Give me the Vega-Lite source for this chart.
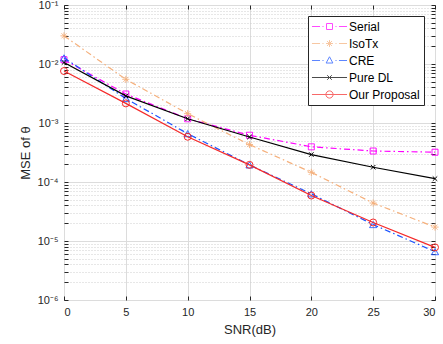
{
  "$schema": "https://vega.github.io/schema/vega-lite/v6.json",
  "width": 371,
  "height": 295,
  "autosize": {"type": "none"},
  "padding": {"left": 64, "top": 5, "right": 8, "bottom": 44},
  "background": "white",
  "config": {
    "view": {"stroke": "#262626", "strokeWidth": 1},
    "font": "Liberation Sans",
    "axis": {"labelFont": "Liberation Sans", "titleFont": "Liberation Sans", "labelColor": "#262626", "titleColor": "#262626", "titleFontWeight": "normal", "domain": false, "tickColor": "#262626"}
  },
  "data": {"values": [
    {"snr": 0, "series": "Serial", "mse": 0.0118},
    {"snr": 5, "series": "Serial", "mse": 0.0031},
    {"snr": 10, "series": "Serial", "mse": 0.00118},
    {"snr": 15, "series": "Serial", "mse": 0.00062},
    {"snr": 20, "series": "Serial", "mse": 0.000395},
    {"snr": 25, "series": "Serial", "mse": 0.000335},
    {"snr": 30, "series": "Serial", "mse": 0.00032},
    {"snr": 0, "series": "IsoTx", "mse": 0.030},
    {"snr": 5, "series": "IsoTx", "mse": 0.0055},
    {"snr": 10, "series": "IsoTx", "mse": 0.00144},
    {"snr": 15, "series": "IsoTx", "mse": 0.00043},
    {"snr": 20, "series": "IsoTx", "mse": 0.000146},
    {"snr": 25, "series": "IsoTx", "mse": 0.000044},
    {"snr": 30, "series": "IsoTx", "mse": 0.0000172},
    {"snr": 0, "series": "CRE", "mse": 0.0127},
    {"snr": 5, "series": "CRE", "mse": 0.0026},
    {"snr": 10, "series": "CRE", "mse": 0.00066},
    {"snr": 15, "series": "CRE", "mse": 0.000195},
    {"snr": 20, "series": "CRE", "mse": 0.000063},
    {"snr": 25, "series": "CRE", "mse": 0.000019},
    {"snr": 30, "series": "CRE", "mse": 0.0000066},
    {"snr": 0, "series": "Pure DL", "mse": 0.0106},
    {"snr": 5, "series": "Pure DL", "mse": 0.00288},
    {"snr": 10, "series": "Pure DL", "mse": 0.00118},
    {"snr": 15, "series": "Pure DL", "mse": 0.00058},
    {"snr": 20, "series": "Pure DL", "mse": 0.000292},
    {"snr": 25, "series": "Pure DL", "mse": 0.000178},
    {"snr": 30, "series": "Pure DL", "mse": 0.000114},
    {"snr": 0, "series": "Our Proposal", "mse": 0.0076},
    {"snr": 5, "series": "Our Proposal", "mse": 0.00215},
    {"snr": 10, "series": "Our Proposal", "mse": 0.000585},
    {"snr": 15, "series": "Our Proposal", "mse": 0.000195},
    {"snr": 20, "series": "Our Proposal", "mse": 0.000059},
    {"snr": 25, "series": "Our Proposal", "mse": 0.0000206},
    {"snr": 30, "series": "Our Proposal", "mse": 0.0000078}
  ]},
  "resolve": {"axis": {"x": "independent", "y": "independent"}},
  "layer": [
    {
      "transform": [{"filter": "datum.series === 'Serial'"}],
      "mark": {"type": "line", "color": "#ff00ff", "strokeWidth": 1.2, "strokeDash": [6, 3, 1.5, 3],
        "point": {"shape": "square", "filled": false, "color": "#ff00ff", "size": 36, "strokeWidth": 1, "strokeDash": [1, 0]}},
      "encoding": {
        "x": {"field": "snr", "type": "quantitative", "scale": {"domain": [0, 30], "nice": false},
          "axis": {"orient": "bottom", "values": [0, 5, 10, 15, 20, 25, 30], "grid": true, "gridColor": "#dcdcdc", "tickSize": -4, "labelFontSize": 11, "labelPadding": 10, "title": "SNR(dB)", "titleFontSize": 13, "titlePadding": 6}},
        "y": {"field": "mse", "type": "quantitative", "scale": {"type": "log", "domain": [0.000001, 0.1], "nice": false},
          "axis": {"orient": "left",
            "values": [0.000001, 0.000002, 0.000003, 0.000004, 0.000005, 0.000006, 0.000007, 0.000008, 0.000009, 0.00001, 0.00002, 0.00003, 0.00004, 0.00005, 0.00006, 0.00007, 0.00008, 0.00009, 0.0001, 0.0002, 0.0003, 0.0004, 0.0005, 0.0006, 0.0007, 0.0008, 0.0009, 0.001, 0.002, 0.003, 0.004, 0.005, 0.006, 0.007, 0.008, 0.009, 0.01, 0.02, 0.03, 0.04, 0.05, 0.06, 0.07, 0.08, 0.09, 0.1],
            "labelExpr": "abs(log(datum.value)/LN10 - round(log(datum.value)/LN10)) < 0.001 ? '10⁻' + ['⁰','¹','²','³','⁴','⁵','⁶'][-round(log(datum.value)/LN10)] : ''",
            "grid": true,
            "gridColor": {"condition": {"test": "abs(log(datum.value)/LN10 - round(log(datum.value)/LN10)) < 0.001", "value": "#dcdcdc"}, "value": "#cfcfcf"},
            "gridDash": {"condition": {"test": "abs(log(datum.value)/LN10 - round(log(datum.value)/LN10)) < 0.001", "value": []}, "value": [1, 2]},
            "tickSize": -4, "labelFontSize": 11, "labelPadding": 10, "labelOverlap": false,
            "title": "MSE of θ", "titleFontSize": 13, "titlePadding": 5}}
      }
    },
    {
      "transform": [{"filter": "datum.series === 'IsoTx'"}],
      "mark": {"type": "line", "color": "#f5b07c", "strokeWidth": 1.2, "strokeDash": [6, 3, 1.5, 3],
        "point": {"shape": "M-1,0H1M0,-1V1M-0.7,-0.7L0.7,0.7M-0.7,0.7L0.7,-0.7", "filled": false, "color": "#f5b07c", "size": 49, "strokeWidth": 1, "strokeDash": [1, 0]}},
      "encoding": {"x": {"field": "snr", "type": "quantitative", "axis": null}, "y": {"field": "mse", "type": "quantitative", "axis": null}}
    },
    {
      "transform": [{"filter": "datum.series === 'CRE'"}],
      "mark": {"type": "line", "color": "#1a53ff", "strokeWidth": 1.2, "strokeDash": [6, 3, 1.5, 3],
        "point": {"shape": "triangle-up", "filled": false, "color": "#1a53ff", "size": 50, "strokeWidth": 1, "strokeDash": [1, 0]}},
      "encoding": {"x": {"field": "snr", "type": "quantitative", "axis": null}, "y": {"field": "mse", "type": "quantitative", "axis": null}}
    },
    {
      "transform": [{"filter": "datum.series === 'Pure DL'"}],
      "mark": {"type": "line", "color": "#000000", "strokeWidth": 1.2,
        "point": {"shape": "M-1,-1L1,1M-1,1L1,-1", "filled": false, "color": "#000000", "size": 20, "strokeWidth": 1}},
      "encoding": {"x": {"field": "snr", "type": "quantitative", "axis": null}, "y": {"field": "mse", "type": "quantitative", "axis": null}}
    },
    {
      "transform": [{"filter": "datum.series === 'Our Proposal'"}],
      "mark": {"type": "line", "color": "#f52a2a", "strokeWidth": 1.2,
        "point": {"shape": "circle", "filled": false, "color": "#f52a2a", "size": 49, "strokeWidth": 1}},
      "encoding": {"x": {"field": "snr", "type": "quantitative", "axis": null}, "y": {"field": "mse", "type": "quantitative", "axis": null}}
    },
    {
      "transform": [{"filter": "datum.snr < 0"}],
      "mark": {"type": "point", "filled": false, "strokeWidth": 1},
      "encoding": {
        "x": {"field": "snr", "type": "quantitative", "axis": null},
        "y": {"field": "mse", "type": "quantitative", "axis": null},
        "color": {"field": "series", "type": "nominal",
          "scale": {"domain": ["Serial", "IsoTx", "CRE", "Pure DL", "Our Proposal"], "range": ["#ff00ff", "#f5b07c", "#1a53ff", "#000000", "#f52a2a"]},
          "legend": {"title": null, "orient": "none", "legendX": 244, "legendY": 11, "padding": 4, "rowPadding": 4, "labelFontSize": 12, "labelFont": "Liberation Sans", "labelColor": "#000000", "strokeColor": "#262626", "fillColor": "white", "symbolOffset": 11, "labelOffset": 13, "symbolSize": 144, "symbolStrokeWidth": 1}},
        "shape": {"field": "series", "type": "nominal",
          "scale": {"domain": ["Serial", "IsoTx", "CRE", "Pure DL", "Our Proposal"], "range": [
            "M-2.92,0H-1.58M-1.17,0H-1M1,0H1.17M1.58,0H2.92M-0.5,-0.5H0.5V0.5H-0.5Z",
            "M-2.92,0H-1.58M-1.17,0H-1M1,0H1.17M1.58,0H2.92M-0.58,0H0.58M0,-0.58V0.58M-0.41,-0.41L0.41,0.41M-0.41,0.41L0.41,-0.41",
            "M-2.92,0H-1.58M-1.17,0H-1M1,0H1.17M1.58,0H2.92M0,-0.62L0.56,0.42H-0.56Z",
            "M-2.92,0H2.92M-0.38,-0.38L0.38,0.38M-0.38,0.38L0.38,-0.38",
            "M-2.92,0H2.92M-0.6,0A0.6,0.6 0 1,0 0.6,0A0.6,0.6 0 1,0 -0.6,0Z"]},
          "legend": {"title": null, "orient": "none", "legendX": 244, "legendY": 11, "padding": 4, "rowPadding": 4, "labelFontSize": 12, "labelFont": "Liberation Sans", "labelColor": "#000000", "strokeColor": "#262626", "fillColor": "white", "symbolOffset": 11, "labelOffset": 13, "symbolSize": 144, "symbolStrokeWidth": 1}}
      }
    },
    {
      "mark": {"type": "point", "opacity": 0},
      "encoding": {
        "x": {"field": "snr", "type": "quantitative",
          "axis": {"orient": "top", "values": [0, 5, 10, 15, 20, 25, 30], "grid": false, "labels": false, "tickSize": -4, "title": null}},
        "y": {"field": "mse", "type": "quantitative",
          "axis": {"orient": "right",
            "values": [0.000001, 0.000002, 0.000003, 0.000004, 0.000005, 0.000006, 0.000007, 0.000008, 0.000009, 0.00001, 0.00002, 0.00003, 0.00004, 0.00005, 0.00006, 0.00007, 0.00008, 0.00009, 0.0001, 0.0002, 0.0003, 0.0004, 0.0005, 0.0006, 0.0007, 0.0008, 0.0009, 0.001, 0.002, 0.003, 0.004, 0.005, 0.006, 0.007, 0.008, 0.009, 0.01, 0.02, 0.03, 0.04, 0.05, 0.06, 0.07, 0.08, 0.09, 0.1],
            "grid": false, "labels": false, "tickSize": -4, "title": null}}
      }
    }
  ]
}
